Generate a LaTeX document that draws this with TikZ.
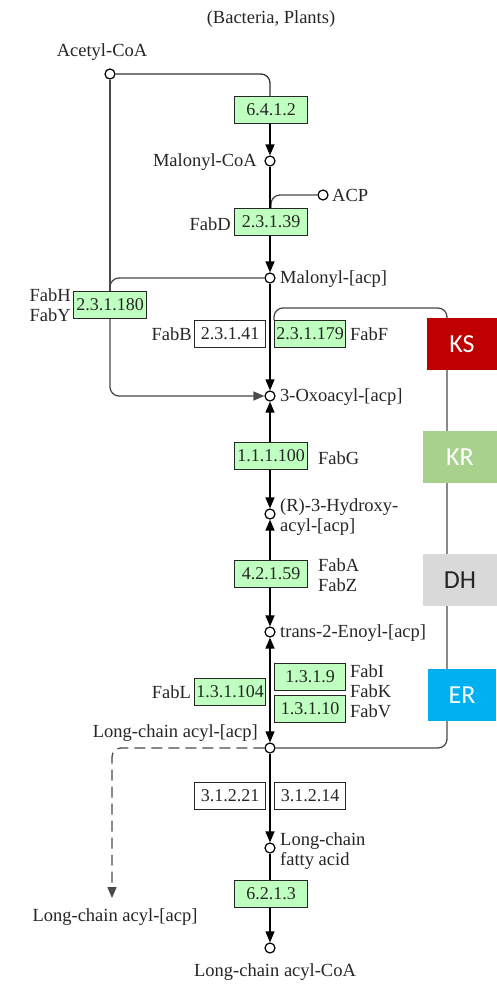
\documentclass[tikz,border=0pt]{standalone}
\usepackage{fontspec}
\setmainfont{Liberation Serif}
\newfontfamily\labfont{Carlito}
\usetikzlibrary{arrows.meta}
\definecolor{enzgreen}{HTML}{BFFFBF}
\definecolor{ksred}{HTML}{C00000}
\definecolor{krgreen}{HTML}{A9D18E}
\definecolor{dhgray}{HTML}{D9D9D9}
\definecolor{erblue}{HTML}{00B0F0}
\definecolor{seccol}{HTML}{4A4A4A}
\begin{document}
\begin{tikzpicture}[x=1pt,y=-1pt,
  txt/.style={font=\fontsize{18.5}{20}\selectfont, text=black!85, inner sep=0pt},
  enz/.style={draw=black!85, line width=1.1pt, fill=enzgreen, minimum width=73pt, minimum height=27pt, inner sep=0pt, font=\fontsize{18}{20}\selectfont, text=black!85},
  enzs/.style={enz, minimum width=71pt},
  enzw/.style={enzs, fill=white},
  cpd/.style={circle, draw=black, fill=white, line width=1.2pt, minimum size=10pt, inner sep=0pt},
  main/.style={draw=black, line width=1.4pt},
  arr/.style={main, -{Triangle[length=11pt,width=9pt]}},
  sec/.style={draw=seccol, line width=1.3pt, rounded corners=9pt},
  tag/.style={minimum width=70pt, minimum height=52pt, inner sep=0pt, font=\labfont\fontsize{26}{28}\selectfont}
]
\useasboundingbox (0,0) rectangle (496,991);
\fill[white] (0,0) rectangle (496,991);

% compounds
\node[cpd] (acetyl) at (110,74) {};
\node[cpd] (malcoa) at (270,161) {};
\node[cpd] (acp) at (323,195) {};
\node[cpd] (malacp) at (270,278) {};
\node[cpd] (oxo) at (270,396) {};
\node[cpd] (hyd) at (270,514) {};
\node[cpd] (enoyl) at (270,632) {};
\node[cpd] (lcacp) at (270,748) {};
\node[cpd] (lcfa) at (270,848) {};
\node[cpd] (lccoa) at (270,948) {};
\coordinate (dashend) at (112,898);
\coordinate (cycend) at (274,320);

% connectors (below boxes)
\draw[sec] (lcacp.east) -- (447,748) -- (447,308) -- (274,308) -- (cycend);
\draw[sec, draw=black!80] (acetyl.east) -- (270,74) -- (270,97);
\draw[sec] (acp.west) -- (271,195) -- (271,209);
\draw[sec] (malacp.west) -- (110,278) -- (110,291);
\draw[sec] (acetyl.south) -- (110,291);
\draw[sec, -{Triangle[length=11pt,width=9pt]}] (110,318) -- (110,396) -- (oxo.west);
\draw[sec, dashed, dash pattern=on 11pt off 6pt, -{Triangle[length=11pt,width=9pt]}] (lcacp.west) -- (112,748) -- (dashend);

% enzymes
\node[enz] (e6412) at (271,110) {6.4.1.2};
\node[enz] (e23139) at (271,222) {2.3.1.39};
\node[enz] (e231180) at (110,305) {2.3.1.180};
\node[enzw] (e23141) at (230,334) {2.3.1.41};
\node[enzs] (e231179) at (310,334) {2.3.1.179};
\node[enz] (e111100) at (271,456) {1.1.1.100};
\node[enz] (e42159) at (271,574) {4.2.1.59};
\node[enzs] (e1319) at (310,677) {1.3.1.9};
\node[enzs] (e13110) at (310,709) {1.3.1.10};
\node[enzs] (e131104) at (230,692) {1.3.1.104};
\node[enzw] (e31221) at (230,796) {3.1.2.21};
\node[enzw] (e31214) at (310,796) {3.1.2.14};
\node[enz] (e6213) at (271,894) {6.2.1.3};

% main reaction arrows
\draw[arr] (e6412.south -| malcoa) -- (malcoa.north);
\draw[main] (malcoa.south) -- (e23139.north -| malcoa);
\draw[arr] (e23139.south -| malacp) -- (malacp.north);
\draw[arr] (malacp.south) -- (oxo.north);
\draw[arr] (e111100.north -| oxo) -- (oxo.south);
\draw[arr] (e111100.south -| hyd) -- (hyd.north);
\draw[arr] (e42159.north -| hyd) -- (hyd.south);
\draw[arr] (e42159.south -| enoyl) -- (enoyl.north);
\draw[main, {Triangle[length=11pt,width=9pt]}-{Triangle[length=11pt,width=9pt]}] (enoyl.south) -- (lcacp.north);
\draw[arr] (lcacp.south) -- (lcfa.north);
\draw[main] (lcfa.south) -- (e6213.north -| lcfa);
\draw[arr] (e6213.south -| lccoa) -- (lccoa.north);

% domain tags
\node[tag, fill=ksred, text=white] (ks) at (462,344) {KS};
\node[tag, fill=krgreen, text=white, minimum width=74pt] (kr) at (460,457) {KR};
\node[tag, fill=dhgray, text=black!85, minimum width=74pt] (dh) at (460,580) {DH};
\node[tag, fill=erblue, text=white, minimum width=68pt] (er) at (462,695) {ER};

% labels
\node[txt] (title) at (271,19) {(Bacteria, Plants)};
\node[txt] (lacetyl) at (102,52) {Acetyl-CoA};
\node[txt, anchor=east] (lmalcoa) at (257,162) {Malonyl-CoA};
\node[txt, anchor=west] (lacp) at (332,195) {ACP};
\node[txt, anchor=east] (lfabd) at (231,224) {FabD};
\node[txt, anchor=west] (lmalacp) at (280,279) {Malonyl-[acp]};
\node[txt, anchor=east, align=left] (lfabh) at (71,305) {FabH\\FabY};
\node[txt, anchor=east] (lfabb) at (192,334) {FabB};
\node[txt, anchor=west] (lfabf) at (350,334) {FabF};
\node[txt, anchor=west] (loxo) at (280,397) {3-Oxoacyl-[acp]};
\node[txt, anchor=west] (lfabg) at (318,458) {FabG};
\node[txt, anchor=west, align=left] (lhyd) at (280,517) {(R)-3-Hydroxy-\\acyl-[acp]};
\node[txt, anchor=west, align=left] (lfaba) at (318,575) {FabA\\FabZ};
\node[txt, anchor=west] (lenoyl) at (280,633) {trans-2-Enoyl-[acp]};
\node[txt, anchor=east] (lfabl) at (191,692) {FabL};
\node[txt, anchor=west, align=left] (lfabi) at (350,691) {FabI\\FabK\\FabV};
\node[txt, anchor=east] (llcacp) at (258,733) {Long-chain acyl-[acp]};
\node[txt, anchor=west, align=left] (llcfa) at (280,851) {Long-chain\\fatty acid};
\node[txt] (llcacp2) at (115,917) {Long-chain acyl-[acp]};
\node[txt] (llccoa) at (275,972) {Long-chain acyl-CoA};
\end{tikzpicture}
\end{document}
